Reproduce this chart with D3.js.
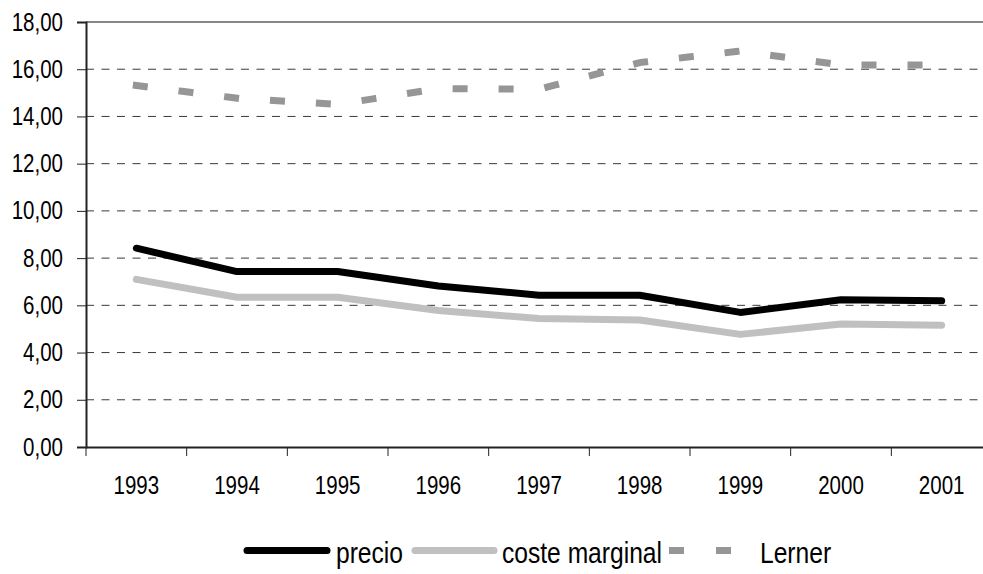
<!DOCTYPE html>
<html>
<head>
<meta charset="utf-8">
<script src="https://cdn.jsdelivr.net/npm/d3@7"></script>
<style>
  body { margin: 0; background: #fff; }
  svg { display: block; }
  text { font-family: "Liberation Sans", Arial, sans-serif; fill: #000; }
</style>
</head>
<body>
<svg id="chart"></svg>
<script>
// data
const years = ['1993', '1994', '1995', '1996', '1997', '1998', '1999', '2000', '2001'];
const precio = [8.42, 7.43, 7.43, 6.82, 6.43, 6.43, 5.70, 6.24, 6.19];
const costeMarginal = [7.10, 6.34, 6.34, 5.78, 5.44, 5.38, 4.77, 5.21, 5.16];
const lerner = [15.31, 14.77, 14.51, 15.18, 15.15, 16.28, 16.77, 16.18, 16.18];
const yTicks = [0, 2, 4, 6, 8, 10, 12, 14, 16, 18];
const seriesNames = ['precio', 'coste marginal', 'Lerner'];

const svgWidth = 983;
const svgHeight = 574;
const plot = {left: 86, right: 992, top: 22, bottom: 447};
const narrow = 0.82; // the original uses a condensed face

const svg = d3.select('#chart')
    .attr('width', svgWidth)
    .attr('height', svgHeight);

const x = d3.scaleBand().domain(years).range([plot.left, plot.right]).padding(0);
const y = d3.scaleLinear().domain([0, 18]).range([plot.bottom, plot.top]);
const cx = (d) => x(d) + x.bandwidth() / 2;

const locale = d3.formatLocale({decimal: ',', thousands: '.', grouping: [3], currency: ['', '€']});
const fmt = locale.format('.2f');

// squeeze text horizontally
function condense(sel) {
    sel.each(function () {
        const w = this.getComputedTextLength();
        d3.select(this)
            .attr('textLength', w * narrow)
            .attr('lengthAdjust', 'spacingAndGlyphs');
    });
}

// gridlines
svg.append('g')
    .selectAll('line')
    .data(yTicks.filter(t => t > 0 && t < 18))
    .enter()
    .append('line')
    .attr('x1', plot.left)
    .attr('x2', plot.right)
    .attr('y1', d => y(d))
    .attr('y2', d => y(d))
    .attr('stroke', '#3a3a3a')
    .attr('stroke-width', 1)
    .attr('stroke-dasharray', '8,7.5');

// top border
svg.append('line')
    .attr('x1', plot.left).attr('x2', plot.right)
    .attr('y1', y(18)).attr('y2', y(18))
    .attr('stroke', '#888')
    .attr('stroke-width', 2);

// y axis
const yAxis = svg.append('g')
    .attr('transform', `translate(${plot.left},0)`)
    .call(d3.axisLeft(y).tickValues(yTicks).tickFormat(fmt).tickSize(9).tickPadding(14));
yAxis.attr('font-family', null).attr('font-size', null);
yAxis.select('.domain').attr('stroke', '#222').attr('stroke-width', 2);
yAxis.selectAll('.tick line').attr('stroke', '#222');
yAxis.selectAll('.tick text').attr('font-size', 25).attr('fill', '#000').call(condense);

// x axis: labels at band centres, ticks on band edges
const xAxis = svg.append('g')
    .attr('transform', `translate(0,${plot.bottom})`)
    .call(d3.axisBottom(x).tickSize(0).tickPadding(29));
xAxis.attr('font-family', null).attr('font-size', null);
xAxis.select('.domain').attr('stroke', '#222').attr('stroke-width', 2);
xAxis.selectAll('.tick text').attr('font-size', 25).attr('fill', '#000').call(condense);
xAxis.append('g')
    .selectAll('line')
    .data(years.concat(['end']))
    .enter()
    .append('line')
    .attr('x1', d => d === 'end' ? plot.right : x(d))
    .attr('x2', d => d === 'end' ? plot.right : x(d))
    .attr('y1', 0)
    .attr('y2', 9)
    .attr('stroke', '#222');

// lines
const line = d3.line()
    .x((d, i) => cx(years[i]))
    .y(d => y(d));

svg.append('path')
    .datum(lerner)
    .attr('d', line)
    .attr('fill', 'none')
    .attr('stroke', '#969696')
    .attr('stroke-width', 7)
    .attr('stroke-linecap', 'square')
    .attr('stroke-dasharray', '8,38');

svg.append('path')
    .datum(costeMarginal)
    .attr('d', line)
    .attr('fill', 'none')
    .attr('stroke', '#c0c0c0')
    .attr('stroke-width', 7)
    .attr('stroke-linecap', 'round')
    .attr('stroke-linejoin', 'round');

svg.append('path')
    .datum(precio)
    .attr('d', line)
    .attr('fill', 'none')
    .attr('stroke', '#000')
    .attr('stroke-width', 7)
    .attr('stroke-linecap', 'round')
    .attr('stroke-linejoin', 'round');

// legend
const legend = svg.append('g').attr('class', 'legend');
const ly = 550.5;
const ty = 563;

legend.append('line')
    .attr('x1', 247).attr('x2', 327).attr('y1', ly).attr('y2', ly)
    .attr('stroke', '#000').attr('stroke-width', 7).attr('stroke-linecap', 'round');
legend.append('text').attr('x', 336).attr('y', ty).attr('font-size', 30).text(seriesNames[0]);

legend.append('line')
    .attr('x1', 415).attr('x2', 494).attr('y1', ly).attr('y2', ly)
    .attr('stroke', '#c0c0c0').attr('stroke-width', 7).attr('stroke-linecap', 'round');
legend.append('text').attr('x', 502).attr('y', ty).attr('font-size', 30).text(seriesNames[1]);

legend.append('line')
    .attr('x1', 672.5).attr('x2', 727.5).attr('y1', ly).attr('y2', ly)
    .attr('stroke', '#969696').attr('stroke-width', 7)
    .attr('stroke-linecap', 'square').attr('stroke-dasharray', '8,39');
legend.append('text').attr('x', 760).attr('y', ty).attr('font-size', 30).text(seriesNames[2]);

legend.selectAll('text').call(condense);
</script>
</body>
</html>
